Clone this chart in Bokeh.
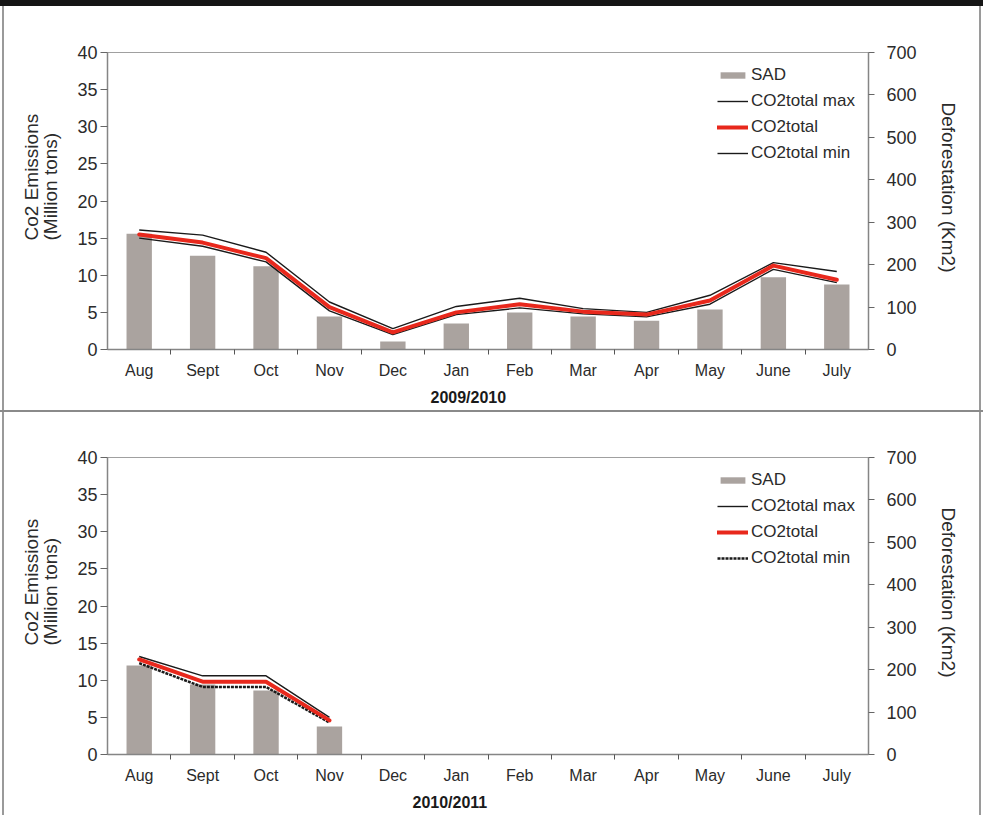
from bokeh.plotting import figure
from bokeh.models import Range1d, LinearAxis, FixedTicker, Legend, LegendItem, Title, Div
from bokeh.layouts import column, row
from bokeh.embed import file_html
from bokeh.resources import INLINE

# ---------------- data ----------------
months = ["Aug", "Sept", "Oct", "Nov", "Dec", "Jan", "Feb", "Mar", "Apr", "May", "June", "July"]
left_ticks = [0, 5, 10, 15, 20, 25, 30, 35, 40]
right_ticks = [0, 100, 200, 300, 400, 500, 600, 700]

# 2009/2010 season
sad_2009 = [273, 221, 196, 78, 19, 61, 87, 78, 68, 94, 170, 153]          # km2
co2_2009 = [15.5, 14.4, 12.3, 5.7, 2.3, 5.0, 6.1, 5.1, 4.7, 6.6, 11.3, 9.4]  # Mt
co2max_2009 = [16.1, 15.4, 13.1, 6.4, 2.8, 5.8, 6.9, 5.5, 5.0, 7.3, 11.7, 10.5]
co2min_2009 = [15.0, 13.9, 11.8, 5.2, 2.0, 4.7, 5.6, 4.8, 4.4, 6.1, 10.8, 9.0]

# 2010/2011 season (Aug - Nov only)
sad_2010 = [210, 165, 151, 66]
co2_2010 = [12.8, 9.8, 9.8, 4.6]
co2max_2010 = [13.2, 10.6, 10.6, 5.0]
co2min_2010 = [12.3, 9.1, 9.1, 4.3]

FONT = "Liberation Sans"
TXT = "#2b2b2b"
AXC = "#858585"
BAR = "#aaa39f"
RED = "#e8281c"
FIG_W = 975


def side_title(text, offset, standoff, size="19px", bold=False):
    return Title(text=text, align="left", offset=offset, vertical_align="bottom",
                 standoff=standoff, text_font=FONT, text_font_size=size,
                 text_line_height=0.95,
                 text_font_style="bold" if bold else "normal", text_color=TXT)


def make_panel(season, sad, co2, co2max, co2min, h, b_top, min_dash, min_width,
               title_offset):
    n = len(sad)
    xs = [i + 0.5 for i in range(n)]
    p = figure(width=FIG_W, height=h, output_backend="svg", toolbar_location=None,
               x_range=Range1d(0, len(months)), y_range=Range1d(0, 40),
               min_border_left=103, min_border_right=FIG_W - 103 - 761, min_border_top=b_top,
               min_border_bottom=h - b_top - 297)
    p.extra_y_ranges = {"km2": Range1d(0, 700)}
    p.xgrid.visible = False
    p.ygrid.visible = False
    p.outline_line_color = "#a0a0a0"
    p.outline_line_width = 1
    p.background_fill_color = "white"
    p.border_fill_color = "white"

    # x axis
    xa = p.xaxis[0]
    xa.ticker = FixedTicker(ticks=[i + 0.5 for i in range(len(months))],
                            minor_ticks=list(range(1, len(months))))
    xa.major_label_overrides = {i + 0.5: m for i, m in enumerate(months)}
    xa.major_tick_line_color = None
    xa.major_tick_out = 0
    xa.major_tick_in = 0
    xa.minor_tick_line_color = "#555555"
    xa.minor_tick_out = 5
    xa.minor_tick_in = 0
    xa.major_label_standoff = 7
    xa.major_label_text_font = FONT
    xa.major_label_text_font_size = "16px"
    xa.major_label_text_color = TXT
    xa.axis_line_color = AXC
    xa.axis_line_width = 1.5

    # left axis
    ya = p.yaxis[0]
    ya.ticker = FixedTicker(ticks=left_ticks)
    ya.major_tick_out = 7
    ya.major_tick_in = 0
    ya.minor_tick_line_color = None
    ya.major_tick_line_color = "#666666"
    ya.major_label_standoff = 3
    ya.major_label_text_font = FONT
    ya.major_label_text_font_size = "18px"
    ya.major_label_text_color = TXT
    ya.axis_line_color = AXC
    ya.axis_line_width = 1.5

    # right axis
    ra = LinearAxis(y_range_name="km2", ticker=FixedTicker(ticks=right_ticks))
    ra.major_tick_out = 6
    ra.major_tick_in = 0
    ra.minor_tick_line_color = None
    ra.major_tick_line_color = "#666666"
    ra.major_label_standoff = 12
    ra.major_label_text_font = FONT
    ra.major_label_text_font_size = "18px"
    ra.major_label_text_color = TXT
    ra.axis_line_color = AXC
    ra.axis_line_width = 1.5
    p.add_layout(ra, "right")

    # axis titles (as side titles so they can sit off-centre like the original)
    p.add_layout(side_title("Co2 Emissions\n(Million tons)", 109, 26), "left")
    p.add_layout(side_title("Deforestation (Km2)", 50, 36), "right")

    # glyphs
    bars = p.vbar(x=xs, top=sad, width=0.4, bottom=0, y_range_name="km2",
                  fill_color=BAR, line_color=None)
    rmax = p.line(xs, co2max, line_color="#1a1a1a", line_width=1.4)
    rmin = p.line(xs, co2min, line_color="#1a1a1a", line_width=min_width, line_dash=min_dash)
    rtot = p.line(xs, co2, line_color=RED, line_width=4, line_join="round", line_cap="round")

    legend = Legend(items=[LegendItem(label="SAD", renderers=[bars]),
                           LegendItem(label="CO2total max", renderers=[rmax]),
                           LegendItem(label="CO2total", renderers=[rtot]),
                           LegendItem(label="CO2total min", renderers=[rmin])],
                    location=(610, 186))
    legend.padding = 0
    legend.margin = 0
    legend.border_line_color = None
    legend.background_fill_alpha = 0
    legend.glyph_width = 31
    legend.glyph_height = 8
    legend.label_height = 20
    legend.spacing = 6
    legend.label_standoff = 3
    legend.label_text_font = FONT
    legend.label_text_font_size = "17px"
    legend.label_text_color = TXT
    p.add_layout(legend)

    p.add_layout(Title(text=season, align="left", offset=title_offset, text_font=FONT,
                       text_font_size="16px", text_font_style="bold", text_color="#1a1a1a",
                       standoff=10), "below")
    return p


p1 = make_panel("2009/2010", sad_2009, co2_2009, co2max_2009, co2min_2009,
                404, 46, "solid", 1.4, 323)
p2 = make_panel("2010/2011", sad_2010, co2_2010, co2max_2010, co2min_2010,
                403, 45, "3 1", 2.5, 305)


def framed(fig, h):
    return row(Div(text="", width=2, height=h, margin=0),
               Div(text="", width=2, height=h, margin=0, styles={"background-color": "#9a9a9a"}),
               fig,
               Div(text="", width=2, height=h, margin=0, styles={"background-color": "#9a9a9a"}),
               spacing=0)


top_bar = Div(text="", width=983, height=6, margin=0, styles={"background-color": "#151515"})
divider = Div(text="", width=983, height=2, margin=0, styles={"background-color": "#8a8a8a"})

layout = column(top_bar, framed(p1, 404), divider, framed(p2, 403), spacing=0)
open("out.html", "w").write(file_html(layout, INLINE))
